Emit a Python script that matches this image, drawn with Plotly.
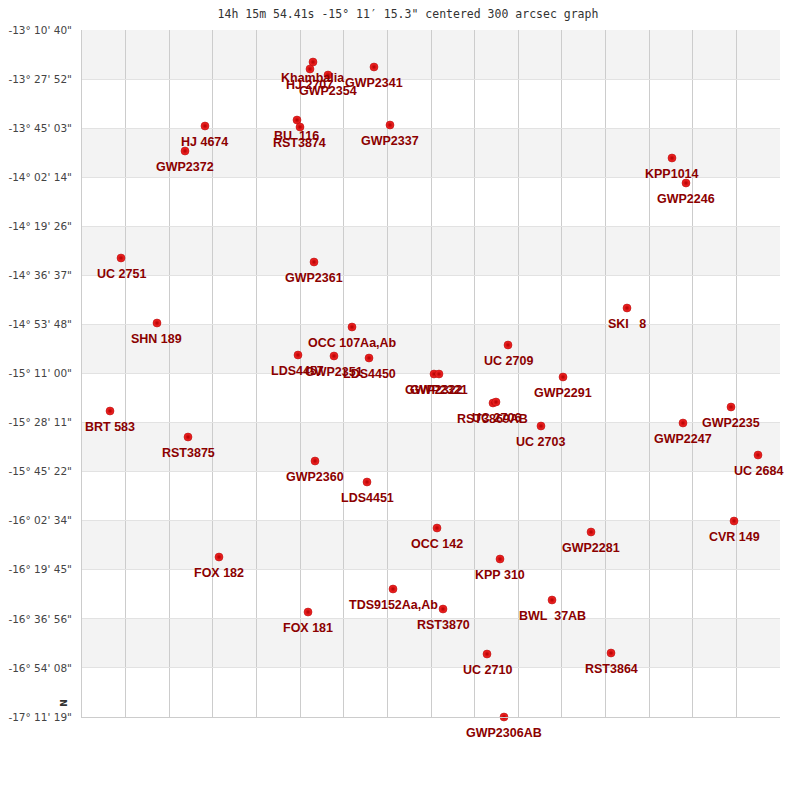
import plotly.graph_objects as go

# Star names, RA offset (grid column units, 0..16 across), declination (deg)
names = ["Khambalia", "HJ 2707", "GWP2354", "GWP2341", "BU  116", "RST3874", "GWP2337",
         "HJ 4674", "GWP2372", "KPP1014", "GWP2246", "UC 2751", "GWP2361", "SKI   8",
         "SHN 189", "OCC 107Aa,Ab", "LDS4457", "GWP2351", "LDS4450", "UC 2709",
         "GWP2322", "GWP2321", "GWP2291", "RST3869AB", "UC 2706", "UC 2703", "BRT 583",
         "RST3875", "GWP2247", "GWP2235", "UC 2684", "GWP2360", "LDS4451", "OCC 142",
         "GWP2281", "CVR 149", "FOX 182", "KPP 310", "TDS9152Aa,Ab", "BWL  37AB",
         "RST3870", "FOX 181", "UC 2710", "RST3864", "GWP2306AB"]
ra_offset = [5.295, 5.226, 5.639, 6.693, 4.928, 4.997, 7.060,
             2.819, 2.361, 13.524, 13.845, 0.894, 5.318, 12.493,
             1.719, 6.189, 4.951, 5.776, 6.579, 9.765,
             8.069, 8.183, 11.026, 9.421, 9.490, 10.521, 0.642,
             2.430, 13.776, 14.877, 15.496, 5.341, 6.533, 8.138,
             11.668, 14.946, 3.140, 9.582, 7.129, 10.774,
             8.275, 5.181, 9.284, 12.126, 9.673]
dec = [-13.3646, -13.4055, -13.4405, -13.3938, -13.7032, -13.7441, -13.7324,
       -13.7383, -13.8842, -13.9251, -14.0710, -14.5089, -14.5323, -14.8008,
       -14.8884, -14.9118, -15.0752, -15.0811, -15.0927, -15.0168,
       -15.1862, -15.1862, -15.2037, -15.3555, -15.3496, -15.4898, -15.4022,
       -15.5540, -15.4722, -15.3788, -15.6591, -15.6941, -15.8167, -16.0853,
       -16.1086, -16.0444, -16.2546, -16.2662, -16.4414, -16.5056,
       -16.5582, -16.5757, -16.8209, -16.8150, -17.1886]

dec_ticks = [-13.177778, -13.464444, -13.750833, -14.037222, -14.323889, -14.610278,
             -14.896667, -15.183333, -15.469722, -15.756111, -16.042778, -16.329167,
             -16.615556, -16.902222, -17.188611]
dec_tick_labels = ['-13° 10\' 40"', '-13° 27\' 52"', '-13° 45\' 03"', '-14° 02\' 14"',
                   '-14° 19\' 26"', '-14° 36\' 37"', '-14° 53\' 48"', '-15° 11\' 00"',
                   '-15° 28\' 11"', '-15° 45\' 22"', '-16° 02\' 34"', '-16° 19\' 45"',
                   '-16° 36\' 56"', '-16° 54\' 08"', '-17° 11\' 19"']
ra_grid = list(range(0, 17))

title_text = '14h 15m 54.41s -15° 11′ 15.3" centered 300 arcsec graph'

fig = go.Figure()

# alternating bands
shapes = []
for i in range(len(dec_ticks) - 1):
    if i % 2 == 0:
        shapes.append(dict(type="rect", xref="x", yref="y", x0=0, x1=16,
                           y0=dec_ticks[i + 1], y1=dec_ticks[i],
                           fillcolor="#f3f3f3", line=dict(width=0), layer="below"))

fig.add_trace(go.Scatter(
    x=ra_offset, y=dec, mode="markers",
    marker=dict(size=8, color="#ff2a2a",
                gradient=dict(type="radial", color="#b00000"),
                line=dict(width=0.5, color="#a00000")),
    cliponaxis=False, text=names, hoverinfo="text", showlegend=False))

annotations = []
for n, xv, yv in zip(names, ra_offset, dec):
    annotations.append(dict(text=n, x=xv, y=yv, xref="x", yref="y", showarrow=False,
                            xanchor="center", yanchor="middle", yshift=-15.5,
                            font=dict(family="Liberation Sans, Arial, sans-serif",
                                      size=12.5, color="#8B0000", weight="bold")))
annotations.append(dict(text="<b>N</b>", xref="paper", yref="paper", x=-0.036, y=0.012,
                        showarrow=False, textangle=-90,
                        font=dict(family="DejaVu Sans", size=9, color="#333333")))

fig.update_layout(
    width=800, height=800,
    margin=dict(l=74, r=28, t=22, b=91, autoexpand=False),
    paper_bgcolor="white", plot_bgcolor="white",
    shapes=shapes,
    title=dict(text=title_text, x=0.5, xanchor="center", y=0.992, yanchor="middle",
               font=dict(family="DejaVu Sans Mono", size=11.5, color="#333333")),
    xaxis=dict(range=[0, 16], tickvals=ra_grid, showticklabels=False, showgrid=True,
               gridcolor="#cccccc", gridwidth=1, zeroline=False, showline=True,
               linecolor="#cccccc", ticks="", fixedrange=True, automargin=False),
    yaxis=dict(range=[dec_ticks[-1], dec_ticks[0]], tickvals=dec_ticks,
               ticktext=dec_tick_labels, showgrid=True, gridcolor="#e2e2e2",
               zeroline=False, showline=True, linecolor="#cccccc", ticks="",
               tickfont=dict(family="DejaVu Sans", size=10.5, color="#444444"),
               ticklabelstandoff=7, fixedrange=True, automargin=False),
    annotations=annotations,
)

fig.write_html("out.html")
